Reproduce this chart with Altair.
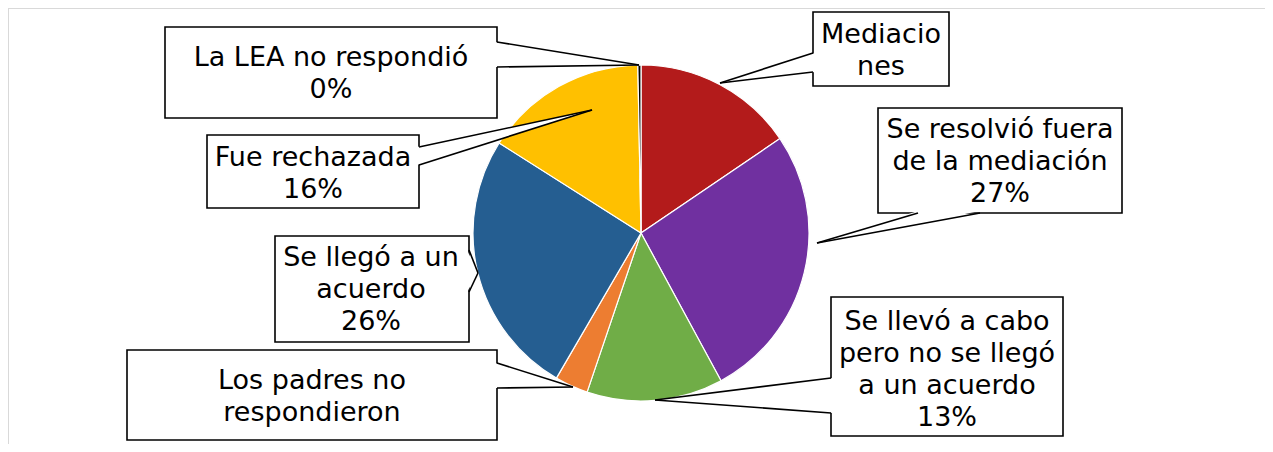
import altair as alt
import pandas as pd

# ---- data ----
categories = [
    "Mediaciones",
    "Se resolvió fuera de la mediación",
    "Se llevó a cabo pero no se llegó a un acuerdo",
    "Los padres no respondieron",
    "Se llegó a un acuerdo",
    "Fue rechazada",
    "La LEA no respondió",
]
values = [15.5, 26.6, 13.1, 3.2, 25.6, 15.7, 0.3]
colors = ["#B31B1B", "#7030A0", "#70AD47", "#ED7D31", "#255E91", "#FFC000", "#000000"]
label_texts = [
    "Mediacio\nnes",
    "Se resolvió fuera\nde la mediación\n27%",
    "Se llevó a cabo\npero no se llegó\na un acuerdo\n13%",
    "Los padres no\nrespondieron",
    "Se llegó a un\nacuerdo\n 26%",
    "Fue rechazada\n16%",
    "La LEA no respondió\n0%",
]

# ---- layout (page pixel positions of the callouts) ----
OFF = 8
LH = 32
boxes = [  # x1, y1, x2, y2
    (813, 12, 949, 86),
    (878, 108, 1122, 213),
    (831, 297, 1063, 436),
    (127, 350, 497, 440),
    (275, 236, 469, 342),
    (207, 135, 419, 208),
    (165, 27, 497, 118),
]
# wedge: (edge, base a, base b, tip x, tip y)
wedges = [
    ("left", 53, 72, 720, 83),
    ("bottom", 918, 980, 817, 243),
    ("left", 378, 413, 655, 400),
    ("right", 363, 388, 573, 387),
    ("right", 250, 292, 478, 273),
    ("right", 147, 165, 592, 110),
    ("right", 42, 67, 639, 65),
]
text_centers = [
    (881, 51), (1000, 162), (947, 370), (312, 397),
    (371, 290), (313, 174), (331, 74),
]
CX, CY, R = 641, 233, 168

pie_df = pd.DataFrame({"cat": categories, "value": values, "idx": list(range(len(categories)))})

box_df = pd.DataFrame([
    {"x": b[0] - OFF, "y": b[1] - OFF, "x2": b[2] - OFF, "y2": b[3] - OFF} for b in boxes
])
txt_df = pd.DataFrame([
    {"x": c[0] - OFF, "y": c[1] - OFF - (t.count("\n")) * LH / 2, "t": t}
    for c, t in zip(text_centers, label_texts)
])

vert_rows, hor_rows, rule_rows = [], [], []
for i, (w, b) in enumerate(zip(wedges, boxes)):
    edge, a, bb, tx, ty = w
    if edge in ("left", "right"):
        ex = b[0] if edge == "left" else b[2]
        inside = ex + 2 if edge == "left" else ex - 2
        vert_rows.append({"id": i, "x": inside - OFF, "y": a - OFF, "y2": bb - OFF})
        vert_rows.append({"id": i, "x": tx - OFF, "y": ty - OFF, "y2": ty - OFF})
        rule_rows.append({"x": ex - OFF, "y": a - OFF, "x2": tx - OFF, "y2": ty - OFF})
        rule_rows.append({"x": ex - OFF, "y": bb - OFF, "x2": tx - OFF, "y2": ty - OFF})
    else:
        ey = b[3] if edge == "bottom" else b[1]
        inside = ey - 2 if edge == "bottom" else ey + 2
        hor_rows.append({"id": i, "y": inside - OFF, "x": a - OFF, "x2": bb - OFF})
        hor_rows.append({"id": i, "y": ty - OFF, "x": tx - OFF, "x2": tx - OFF})
        rule_rows.append({"x": a - OFF, "y": ey - OFF, "x2": tx - OFF, "y2": ty - OFF})
        rule_rows.append({"x": bb - OFF, "y": ey - OFF, "x2": tx - OFF, "y2": ty - OFF})

vert_df = pd.DataFrame(vert_rows)
hor_df = pd.DataFrame(hor_rows)
rule_df = pd.DataFrame(rule_rows)

frame_df = pd.DataFrame([
    {"x": 0, "y": 0, "x2": 1300, "y2": 0},
    {"x": 0, "y": 0, "x2": 0, "y2": 500},
])

W, H = 1257, 436

frame = alt.Chart(frame_df).mark_rule(color="#d9d9d9", strokeWidth=2).encode(
    x=alt.X("x:Q", scale=None), y=alt.Y("y:Q", scale=None),
    x2="x2:Q", y2="y2:Q",
)

pie = alt.Chart(pie_df).mark_arc(radius=R, stroke="white", strokeWidth=1.2).encode(
    theta=alt.Theta("value:Q", stack=True),
    order=alt.Order("idx:Q"),
    color=alt.Color("cat:N", scale=alt.Scale(domain=categories, range=colors), legend=None),
    x=alt.value(CX - OFF),
    y=alt.value(CY - OFF),
)

rects = alt.Chart(box_df).mark_rect(fill="white", stroke="black", strokeWidth=1.6).encode(
    x=alt.X("x:Q", scale=None), x2="x2:Q",
    y=alt.Y("y:Q", scale=None), y2="y2:Q",
)

vareas = alt.Chart(vert_df).mark_area(fill="white", orient="vertical").encode(
    x=alt.X("x:Q", scale=None),
    y=alt.Y("y:Q", scale=None), y2="y2:Q",
    detail="id:N",
)

hareas = alt.Chart(hor_df).mark_area(fill="white", orient="horizontal").encode(
    y=alt.Y("y:Q", scale=None),
    x=alt.X("x:Q", scale=None), x2="x2:Q",
    detail="id:N",
)

rules = alt.Chart(rule_df).mark_rule(color="black", strokeWidth=1.6).encode(
    x=alt.X("x:Q", scale=None), y=alt.Y("y:Q", scale=None),
    x2="x2:Q", y2="y2:Q",
)

texts = alt.Chart(txt_df).mark_text(
    font="DejaVu Sans", fontSize=27, lineHeight=LH, align="center",
    baseline="middle", color="black", lineBreak="\n",
).encode(
    x=alt.X("x:Q", scale=None), y=alt.Y("y:Q", scale=None), text="t:N",
)

chart = alt.layer(frame, pie, rects, vareas, hareas, rules, texts).properties(
    width=W, height=H, padding=0, autosize=alt.AutoSizeParams(type="none"),
    background="white",
).configure_view(stroke=None)

chart.save("out.html", embed_options={"renderer": "svg", "actions": False})
